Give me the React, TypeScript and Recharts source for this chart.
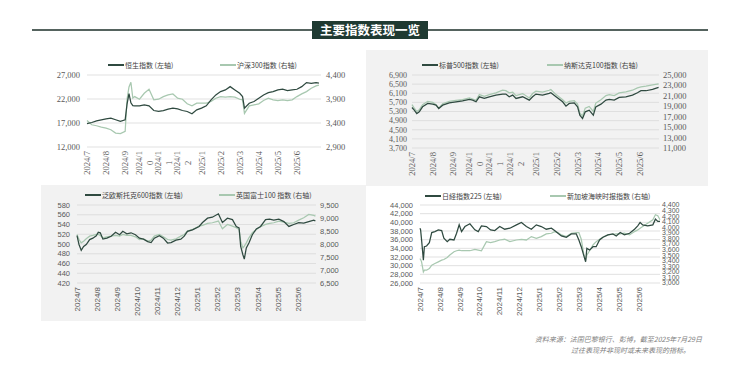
import { LineChart, Line, XAxis, YAxis, CartesianGrid } from 'recharts';

const DARK = '#2f4a40';
const LIGHT = '#a8c8b0';
const GRID = '#d9d9d9';
const LABEL = '#595959';
const SERIF = '"Liberation Serif", "DejaVu Serif", serif';
const SANS = '"Liberation Sans", Arial, sans-serif';
const CJK = '"Noto Sans CJK SC", "Noto Sans", sans-serif';

// month labels on the x axis (Excel wraps the long ones in the top charts)
const monthTicks = [0, 1, 2, 3, 4, 5, 6, 7, 8, 9, 10, 11];
const monthsWrapped = ['2024/7', '2024/8', '2024/9', '2024/1\n0', '2024/1\n1', '2024/1\n2', '2025/1', '2025/2', '2025/3', '2025/4', '2025/5', '2025/6'];
const monthsFull = ['2024/7', '2024/8', '2024/9', '2024/10', '2024/11', '2024/12', '2025/1', '2025/2', '2025/3', '2025/4', '2025/5', '2025/6'];

// Hang Seng vs CSI 300
const tlMonths = [0, 0.25, 0.5, 0.75, 1, 1.25, 1.5, 1.75, 2, 2.1, 2.2, 2.3, 2.4, 2.5, 2.75, 3, 3.25, 3.5, 3.75, 4, 4.25, 4.5, 4.75, 5, 5.25, 5.5, 5.75, 6, 6.25, 6.5, 6.75, 7, 7.25, 7.5, 7.75, 8, 8.15, 8.25, 8.5, 8.75, 9, 9.25, 9.5, 9.75, 10, 10.25, 10.5, 10.75, 11, 11.25, 11.5, 11.75, 12, 12.15];
const hangSeng = [16850, 17100, 17460, 17670, 17880, 18020, 17670, 17330, 17670, 21000, 23100, 21200, 20600, 20570, 20570, 20780, 20570, 19600, 19400, 19600, 19880, 20090, 19950, 19600, 19400, 18910, 19740, 20090, 20570, 21820, 22850, 23540, 23890, 24580, 23890, 23200, 22500, 20090, 21120, 21470, 22160, 22850, 23330, 23540, 23890, 24030, 23750, 23890, 24030, 24580, 25410, 25270, 25400, 25300];
const csi300 = [3453, 3363, 3343, 3315, 3294, 3260, 3191, 3178, 3225, 3900, 4150, 4250, 3920, 3950, 3895, 4020, 4103, 3882, 3895, 3950, 3985, 4006, 3916, 3895, 3800, 3757, 3813, 3813, 3813, 3847, 3916, 3950, 3937, 3950, 3937, 3895, 3882, 3600, 3757, 3778, 3800, 3868, 3916, 3882, 3868, 3882, 3868, 3882, 3950, 4006, 4054, 4124, 4172, 4190];
const tlLeftTicks = [12000, 17000, 22000, 27000];
const tlRightTicks = [2900, 3400, 3900, 4400];

// S&P 500 vs Nasdaq 100
const trMonths = [0, 0.11, 0.23, 0.35, 0.51, 0.76, 1.0, 1.16, 1.29, 1.48, 1.8, 2.12, 2.44, 2.77, 2.93, 3.09, 3.25, 3.49, 3.73, 4.05, 4.37, 4.53, 4.69, 4.86, 5.02, 5.34, 5.66, 5.82, 5.98, 6.3, 6.62, 6.7, 6.95, 7.27, 7.43, 7.59, 7.83, 7.99, 8.1, 8.23, 8.36, 8.55, 8.75, 8.87, 9.12, 9.36, 9.52, 9.76, 10.0, 10.32, 10.64, 10.88, 11.05, 11.29, 11.61, 11.9];
const sp500 = [5475, 5358, 5211, 5285, 5505, 5652, 5622, 5578, 5432, 5578, 5681, 5725, 5769, 5828, 5799, 5725, 5945, 5872, 5945, 6019, 6063, 6063, 5945, 6019, 5872, 5945, 5799, 5945, 6063, 6019, 6092, 6122, 5945, 5725, 5534, 5652, 5681, 5505, 5138, 4991, 5285, 5358, 5138, 5505, 5622, 5799, 5828, 5799, 5916, 5945, 6019, 6122, 6210, 6210, 6268, 6357];
const nasdaq100 = [19300, 18650, 18000, 18330, 19300, 19950, 19750, 19300, 18650, 19500, 19950, 20140, 20270, 20590, 20400, 20140, 21240, 20920, 21240, 21570, 22080, 22000, 21570, 21700, 21050, 21440, 20590, 21440, 21890, 21700, 22080, 22210, 21240, 20270, 19620, 19950, 20070, 19430, 17680, 17160, 18650, 18970, 18000, 19620, 20270, 21050, 21240, 21050, 21570, 21760, 22080, 22540, 22730, 22860, 23120, 23310];
const trLeftTicks = [3700, 4100, 4500, 4900, 5300, 5700, 6100, 6500, 6900];
const trRightTicks = [11000, 13000, 15000, 17000, 19000, 21000, 23000, 25000];

// STOXX 600 vs FTSE 100
const blMonths = [0, 0.1, 0.21, 0.33, 0.46, 0.63, 0.79, 0.96, 1.06, 1.16, 1.29, 1.49, 1.7, 1.92, 2.12, 2.28, 2.48, 2.69, 2.91, 3.11, 3.31, 3.52, 3.69, 3.85, 4.1, 4.3, 4.51, 4.68, 4.93, 5.17, 5.34, 5.5, 5.75, 6.08, 6.25, 6.5, 6.74, 7.04, 7.24, 7.49, 7.74, 7.93, 8.07, 8.15, 8.26, 8.33, 8.43, 8.56, 8.73, 8.93, 9.14, 9.39, 9.59, 9.8, 10.05, 10.3, 10.55, 10.79, 11.04, 11.29, 11.54, 11.79, 11.87];
const stoxx600 = [517, 499, 487, 495, 499, 509, 512, 517, 524, 523, 510, 512, 516, 524, 519, 526, 521, 523, 519, 512, 510, 505, 503, 512, 517, 512, 502, 503, 508, 510, 516, 526, 529, 536, 544, 553, 555, 562, 544, 553, 550, 536, 533, 495, 478, 469, 492, 502, 519, 531, 536, 550, 551, 549, 551, 546, 536, 540, 544, 543, 546, 549, 547];
const ftse100 = [8367, 8173, 8045, 8109, 8199, 8302, 8328, 8367, 8367, 8328, 8238, 8276, 8302, 8328, 8302, 8367, 8328, 8328, 8276, 8173, 8199, 8109, 8148, 8302, 8367, 8276, 8173, 8148, 8199, 8302, 8367, 8495, 8560, 8689, 8714, 8792, 8817, 8882, 8586, 8753, 8689, 8624, 8560, 8109, 7851, 7916, 8045, 8238, 8431, 8560, 8663, 8753, 8792, 8817, 8882, 8843, 8792, 8817, 8920, 9010, 9139, 9100, 9075];
const blLeftTicks = [420, 440, 460, 480, 500, 520, 540, 560, 580];
const blRightTicks = [6500, 7000, 7500, 8000, 8500, 9000, 9500];

// Nikkei 225 vs Straits Times
const brMonths = [0, 0.03, 0.08, 0.17, 0.22, 0.33, 0.47, 0.59, 0.75, 0.92, 1.09, 1.2, 1.37, 1.5, 1.71, 1.84, 1.97, 2.09, 2.26, 2.51, 2.76, 2.93, 3.09, 3.34, 3.55, 3.76, 4.01, 4.26, 4.52, 4.85, 5.1, 5.35, 5.6, 5.85, 6.1, 6.35, 6.61, 6.77, 6.94, 7.11, 7.36, 7.61, 7.86, 7.99, 8.11, 8.23, 8.33, 8.39, 8.53, 8.7, 8.86, 9.03, 9.2, 9.45, 9.7, 9.87, 10.07, 10.28, 10.54, 10.79, 10.95, 11.07, 11.2, 11.45, 11.71, 11.84, 11.96, 12.07];
const nikkei225 = [38650, 38260, 35930, 31280, 34380, 34540, 35310, 37640, 37870, 38260, 38100, 36320, 35540, 36090, 35930, 37480, 39420, 37870, 39030, 39660, 38260, 37870, 39190, 39030, 38260, 38100, 39030, 38410, 38650, 39420, 39970, 39030, 38410, 39420, 39030, 38410, 38650, 38100, 37480, 36860, 36550, 37330, 37330, 35930, 34380, 32440, 30890, 33990, 33600, 34380, 34380, 35930, 36550, 37100, 37330, 36860, 37640, 37100, 37480, 38410, 39190, 39970, 39420, 39190, 39420, 40740, 40200, 40200];
const straitsTimes = [3441, 3420, 3380, 3199, 3230, 3229, 3259, 3320, 3350, 3380, 3410, 3422, 3459, 3501, 3561, 3579, 3591, 3579, 3579, 3579, 3604, 3591, 3579, 3742, 3724, 3742, 3772, 3785, 3742, 3772, 3785, 3772, 3833, 3803, 3833, 3881, 3893, 3923, 3905, 3863, 3833, 3893, 3905, 3905, 3785, 3531, 3410, 3501, 3579, 3682, 3742, 3785, 3821, 3863, 3875, 3881, 3881, 3893, 3863, 3923, 3953, 3984, 4014, 4074, 4135, 4225, 4207, 4135];
const brLeftTicks = [26000, 28000, 30000, 32000, 34000, 36000, 38000, 40000, 42000, 44000];
const brRightTicks = [3000, 3100, 3200, 3300, 3400, 3500, 3600, 3700, 3800, 3900, 4000, 4100, 4200, 4300, 4400];

const fmt = (v: number) => v.toLocaleString('en-US');

function MonthTick(props: any) {
  const { x, y, payload, labels, font, size } = props;
  const lines = String(labels[Math.round(payload.value)] ?? '').split('\n');
  const style = { fill: LABEL, fontFamily: font, fontSize: size };
  if (lines.length === 1) {
    return (
      <text {...style} transform={`translate(${x},${y}) rotate(-90)`} textAnchor="end" dy="0.35em">
        {lines[0]}
      </text>
    );
  }
  return (
    <g transform={`translate(${x},${y}) rotate(-90)`}>
      <text {...style} x={0} y={-5.5} textAnchor="end" dy="0.35em">{lines[0]}</text>
      <text {...style} x={-11.8} y={5.5} textAnchor="middle" dy="0.35em">{lines[1]}</text>
    </g>
  );
}

interface PanelProps {
  plot: { l: number; r: number; t: number; b: number };
  xEnd: number;
  months: number[];
  a: number[];
  b: number[];
  leftTicks: number[];
  rightTicks: number[];
  labels: string[];
  font: string;
  xSize: number;
  leftSize: number;
  rightSize: number;
  leftGap: number;
  rightGap: number;
  legendY: number;
  legend: { x: number; text: string; color: string }[];
}

function IndexPanel(p: PanelProps) {
  const wl = 50;
  const wr = 50;
  const mt = 6;
  const xh = 40;
  const width = p.plot.r - p.plot.l + wl + wr;
  const height = p.plot.b - p.plot.t + mt + xh;
  const data = p.months.map((m, i) => ({ m, a: p.a[i], b: p.b[i] }));
  const ln = p.leftTicks.length;
  const rn = p.rightTicks.length;

  return (
    <>
      <div style={{ position: 'absolute', left: p.plot.l - wl, top: p.plot.t - mt }}>
        <LineChart width={width} height={height} data={data} margin={{ top: mt, right: 0, bottom: 0, left: 0 }}>
          <CartesianGrid vertical={false} stroke={GRID} strokeWidth={0.8} yAxisId="l" />
          <XAxis
            type="number"
            dataKey="m"
            domain={[0, p.xEnd]}
            ticks={monthTicks}
            interval={0}
            axisLine={false}
            tickLine={false}
            tickSize={2}
            tickMargin={2}
            height={xh}
            tick={(t: any) => <MonthTick {...t} labels={p.labels} font={p.font} size={p.xSize} />}
          />
          <YAxis
            yAxisId="l"
            domain={[p.leftTicks[0], p.leftTicks[ln - 1]]}
            ticks={p.leftTicks}
            interval={0}
            width={wl}
            axisLine={false}
            tickLine={false}
            tickSize={0}
            tickMargin={p.leftGap}
            tickFormatter={fmt}
            tick={{ fill: LABEL, fontSize: p.leftSize, fontFamily: p.font }}
          />
          <YAxis
            yAxisId="r"
            orientation="right"
            domain={[p.rightTicks[0], p.rightTicks[rn - 1]]}
            ticks={p.rightTicks}
            interval={0}
            width={wr}
            axisLine={false}
            tickLine={false}
            tickSize={0}
            tickMargin={p.rightGap}
            tickFormatter={fmt}
            tick={{ fill: LABEL, fontSize: p.rightSize, fontFamily: p.font }}
          />
          <Line yAxisId="r" type="linear" dataKey="b" stroke={LIGHT} strokeWidth={1.25} dot={false} isAnimationActive={false} />
          <Line yAxisId="l" type="linear" dataKey="a" stroke={DARK} strokeWidth={1.25} dot={false} isAnimationActive={false} />
        </LineChart>
      </div>
      {p.legend.map((item) => (
        <div key={item.text}>
          <div style={{ position: 'absolute', left: item.x, top: p.legendY - 1, width: 16, height: 2, background: item.color }} />
          <div
            style={{
              position: 'absolute',
              left: item.x + 17,
              top: p.legendY - 6,
              fontSize: 7,
              lineHeight: '12px',
              fontFamily: CJK,
              color: '#404040',
              whiteSpace: 'nowrap',
            }}
          >
            {item.text}
          </div>
        </div>
      ))}
    </>
  );
}

export default function App() {
  return (
    <div style={{ position: 'fixed', left: 0, top: 0, width: 740, height: 376, background: '#fff', overflow: 'hidden' }}>
      {/* title bar */}
      <div style={{ position: 'absolute', left: 32, top: 29, width: 280, height: 2, background: '#55635e' }} />
      <div style={{ position: 'absolute', left: 428, top: 29, width: 280, height: 2, background: '#55635e' }} />
      <div
        style={{
          position: 'absolute',
          left: 312,
          top: 21,
          width: 116,
          height: 18,
          background: '#1f3a32',
          color: '#fff',
          fontFamily: CJK,
          fontWeight: 700,
          fontSize: 12.5,
          lineHeight: '17px',
          textAlign: 'center',
        }}
      >
        <span style={{ borderBottom: '1px solid #fff', paddingBottom: 0 }}>主要指数表现一览</span>
      </div>

      {/* grey panels */}
      <div style={{ position: 'absolute', left: 366, top: 50, width: 342, height: 136, background: '#f2f2f2' }} />
      <div style={{ position: 'absolute', left: 41, top: 185, width: 325, height: 136, background: '#f2f2f2' }} />

      <IndexPanel
        plot={{ l: 87, r: 321, t: 75, b: 147 }}
        xEnd={12.26}
        months={tlMonths}
        a={hangSeng}
        b={csi300}
        leftTicks={tlLeftTicks}
        rightTicks={tlRightTicks}
        labels={monthsWrapped}
        font={SERIF}
        xSize={8.5}
        leftSize={8.5}
        rightSize={8.5}
        leftGap={7}
        rightGap={5}
        legendY={65}
        legend={[
          { x: 108, text: '恒生指数 (左轴)', color: DARK },
          { x: 220, text: '沪深300指数 (右轴)', color: LIGHT },
        ]}
      />
      <IndexPanel
        plot={{ l: 412, r: 659, t: 75, b: 148 }}
        xEnd={11.92}
        months={trMonths}
        a={sp500}
        b={nasdaq100}
        leftTicks={trLeftTicks}
        rightTicks={trRightTicks}
        labels={monthsWrapped}
        font={SERIF}
        xSize={8.5}
        leftSize={8}
        rightSize={8.5}
        leftGap={5}
        rightGap={4}
        legendY={65}
        legend={[
          { x: 422, text: '标普500指数 (左轴)', color: DARK },
          { x: 547, text: '纳斯达克100指数 (右轴)', color: LIGHT },
        ]}
      />
      <IndexPanel
        plot={{ l: 77, r: 316, t: 205, b: 283 }}
        xEnd={11.9}
        months={blMonths}
        a={stoxx600}
        b={ftse100}
        leftTicks={blLeftTicks}
        rightTicks={blRightTicks}
        labels={monthsFull}
        font={SANS}
        xSize={8}
        leftSize={7.5}
        rightSize={7.5}
        leftGap={7}
        rightGap={4}
        legendY={195}
        legend={[
          { x: 85, text: '泛欧斯托克600指数 (左轴)', color: DARK },
          { x: 219, text: '英国富士100 指数 (右轴)', color: LIGHT },
        ]}
      />
      <IndexPanel
        plot={{ l: 420, r: 660, t: 205, b: 283 }}
        xEnd={12.07}
        months={brMonths}
        a={nikkei225}
        b={straitsTimes}
        leftTicks={brLeftTicks}
        rightTicks={brRightTicks}
        labels={monthsFull}
        font={SANS}
        xSize={8}
        leftSize={7.5}
        rightSize={7}
        leftGap={7}
        rightGap={2}
        legendY={196}
        legend={[
          { x: 425, text: '日経指数225 (左轴)', color: DARK },
          { x: 550, text: '新加坡海峡时报指数 (右轴)', color: LIGHT },
        ]}
      />

      {/* source note */}
      <div style={{ position: 'absolute', right: 38, top: 335, fontSize: 7, lineHeight: '9px', fontFamily: CJK, fontStyle: 'italic', color: '#7f7f7f', whiteSpace: 'nowrap' }}>
        资料来源：法国巴黎银行、彭博，截至2025年7月29日
      </div>
      <div style={{ position: 'absolute', right: 50, top: 346, fontSize: 7, lineHeight: '9px', fontFamily: CJK, fontStyle: 'italic', color: '#7f7f7f', whiteSpace: 'nowrap' }}>
        过往表现并非现时或未来表现的指标。
      </div>
    </div>
  );
}
